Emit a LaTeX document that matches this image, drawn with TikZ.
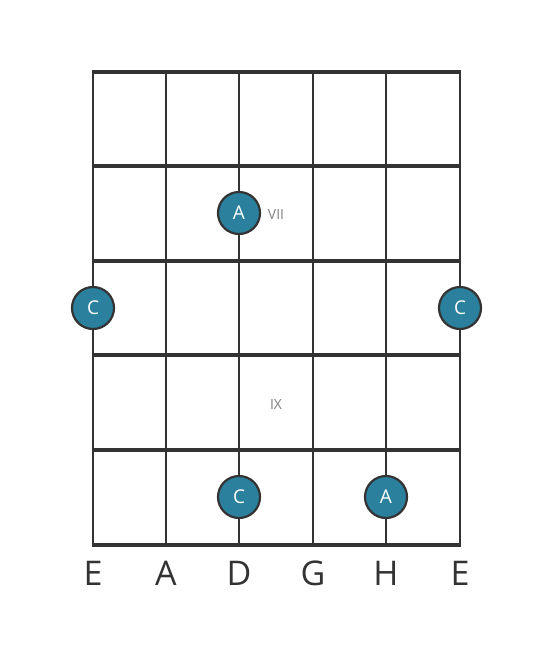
\documentclass[tikz,border=0pt]{standalone}
\usepackage{fontspec}
\setmainfont{Open Sans}

\definecolor{fretline}{HTML}{333333}
\definecolor{notefill}{HTML}{2B809D}
\definecolor{fretnum}{HTML}{808080}

\begin{document}
\begin{tikzpicture}[x=1pt,y=-1pt,
    note/.style={circle, draw=fretline, line width=2.2pt, fill=notefill,
      minimum size=42pt, inner sep=0pt, text=white, font=\fontsize{19}{19}\selectfont},
    stringname/.style={text=fretline, font=\fontsize{34}{34}\selectfont},
    fretlabel/.style={text=fretnum, font=\fontsize{14}{14}\selectfont}]

    % Fix the page size
    \useasboundingbox (0,0) rectangle (553,656);

    % Draw the strings
    \foreach \x in {93,166,239,313,386,460}
        \draw[fretline, line width=2.8pt] (\x,72) -- (\x,545);

    % Draw the frets
    \foreach \y in {72,166,261,355,450,545}
        \draw[fretline, line width=4.5pt] (91.6,\y) -- (461.4,\y);

    % Fret numbers
    \node[fretlabel] (vii) at (276,214) {VII};
    \node[fretlabel] (ix) at (276,404) {IX};

    % Notes
    \node[note] (a1) at (239,213) {A};
    \node[note] (c1) at (93,308) {C};
    \node[note] (c2) at (460,308) {C};
    \node[note] (c3) at (239,497) {C};
    \node[note] (a2) at (386,497) {A};

    % String names
    \node[stringname] (s1) at (93,573) {E};
    \node[stringname] (s2) at (166,573) {A};
    \node[stringname] (s3) at (239,573) {D};
    \node[stringname] (s4) at (313,573) {G};
    \node[stringname] (s5) at (386,573) {H};
    \node[stringname] (s6) at (460,573) {E};

\end{tikzpicture}
\end{document}
